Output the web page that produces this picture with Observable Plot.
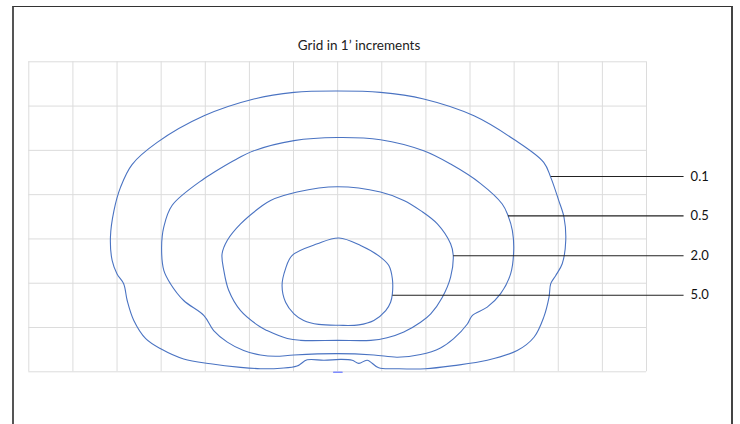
<!DOCTYPE html>
<html>
<head>
<meta charset="utf-8">
<script src="https://cdn.jsdelivr.net/npm/d3@7"></script>
<script src="https://cdn.jsdelivr.net/npm/@observablehq/plot@0.6"></script>
<style>
  html, body { margin: 0; padding: 0; background: #fff; overflow: hidden; }
  #wrap { position: relative; width: 740px; height: 424px; overflow: hidden; }
  #frame { position: absolute; left: 12px; top: 6px; width: 717px; height: 500px;
           border-left: 2px solid #555; border-right: 2px solid #444; border-top: 1.5px solid #333; }
  #title { position: relative; height: 54px; box-sizing: border-box; padding-top: 37px;
           width: 718px; text-align: center; font: 13.5px Lato, "Open Sans", sans-serif;
           line-height: 16px; color: #222; }
  #chart { position: relative; }
</style>
</head>
<body>
<div id="wrap">
  <div id="frame"></div>
  <div id="title">Grid in 1’ increments</div>
  <div id="chart"></div>
</div>
<script>
// Grid tick positions (feet)
const gridX = [0,1,2,3,4,5,6,7,8,9,10,11,12,13,14];
const gridY = [0,1,2,3,4,5,6,7];

// Contour outlines [x, y] in feet
const contour01 = [[7.00,6.34],[7.97,6.31],[8.95,6.16],[10.09,5.78],[10.99,5.25],[11.67,4.73],[11.83,4.39],[12.01,3.87],[12.13,3.49],[12.17,2.97],[12.09,2.44],[11.94,2.17],[11.83,1.99],[11.79,1.68],[11.67,1.23],[11.45,0.78],[11.07,0.48],[10.39,0.26],[9.63,0.14],[8.99,0.07],[8.35,0.07],[7.93,0.09],[7.67,0.26],[7.48,0.19],[7.33,0.26],[7.07,0.28],[6.69,0.26],[6.31,0.27],[6.08,0.13],[5.71,0.08],[5.25,0.07],[4.80,0.10],[4.12,0.18],[3.51,0.29],[2.99,0.52],[2.65,0.75],[2.38,1.16],[2.23,1.61],[2.15,1.99],[2.00,2.21],[1.89,2.51],[1.85,3.04],[1.93,3.64],[2.08,4.17],[2.34,4.68],[2.91,5.18],[3.97,5.78],[5.10,6.16],[6.01,6.31]];
const contour05 = [[6.99,5.29],[7.97,5.24],[8.95,4.99],[9.56,4.69],[10.24,4.25],[10.73,3.79],[10.86,3.53],[10.96,3.19],[10.99,2.74],[10.92,2.21],[10.69,1.76],[10.39,1.46],[10.05,1.27],[9.94,1.08],[9.63,0.75],[9.33,0.54],[8.88,0.39],[8.35,0.33],[7.82,0.38],[6.99,0.41],[6.01,0.38],[5.59,0.35],[5.25,0.38],[4.87,0.48],[4.50,0.67],[4.19,0.93],[3.97,1.27],[3.51,1.61],[3.21,1.99],[3.06,2.29],[3.01,2.81],[3.06,3.27],[3.25,3.76],[3.97,4.36],[4.19,4.50],[4.65,4.77],[5.10,4.99],[6.01,5.22]];
const contour20 = [[6.99,4.18],[7.97,4.06],[8.50,3.87],[8.88,3.64],[9.26,3.34],[9.56,2.89],[9.62,2.63],[9.56,2.14],[9.37,1.68],[9.11,1.31],[8.88,1.12],[8.50,0.90],[8.12,0.77],[7.75,0.71],[7.00,0.71],[6.16,0.71],[5.86,0.75],[5.40,0.93],[5.25,1.01],[4.80,1.38],[4.53,1.84],[4.42,2.29],[4.38,2.66],[4.50,2.97],[4.80,3.34],[5.25,3.72],[5.48,3.87],[6.08,4.06]];
const contour50 = [[7.03,3.02],[7.52,2.85],[7.97,2.59],[8.16,2.40],[8.24,2.10],[8.24,1.76],[8.20,1.57],[8.09,1.38],[7.82,1.16],[7.48,1.06],[7.03,1.05],[6.57,1.07],[6.23,1.16],[6.01,1.31],[5.82,1.57],[5.74,1.95],[5.82,2.33],[5.97,2.63],[6.54,2.89]];

// Small mark on the floor line
const baseTick = [[6.91,-0.01],[7.10,-0.01]];

// Leader labels
const labels   = ["0.1", "0.5", "2.0", "5.0"];
const leaderY  = [4.41, 3.52, 2.62, 1.73];
const leaderX0 = [11.83, 10.86, 9.62, 8.24];
const leaderX1 = 14.84;
const labelX   = 15.0;

const leaders = labels.map((l, i) => ({label: l, y: leaderY[i], x0: leaderX0[i]}));
const contours = [contour01, contour05, contour20, contour50];

const blue = "#4a73c2";
const marks = [
  Plot.ruleX(gridX, {x: d => d, y1: 0, y2: 7, stroke: "#dcdcdc", strokeWidth: 1}),
  Plot.ruleY(gridY, {y: d => d, x1: 0, x2: 14, stroke: "#dcdcdc", strokeWidth: 1}),
  ...contours.map(c => Plot.line(c, {x: d => d[0], y: d => d[1], curve: "catmull-rom-closed", stroke: blue, strokeWidth: 1.1})),
  Plot.line(baseTick, {x: d => d[0], y: d => d[1], stroke: "#7f8cff", strokeWidth: 1.5}),
  Plot.link(leaders, {x1: "x0", y1: "y", x2: () => leaderX1, y2: "y", stroke: "#222", strokeWidth: 1.1}),
  Plot.text(leaders, {x: () => labelX, y: "y", text: "label", textAnchor: "start", fill: "#111", fontSize: 13})
];

const chart = Plot.plot({
  width: 740,
  height: 370,
  marginTop: 7.3,
  marginBottom: 52.7,
  marginLeft: 28.3,
  marginRight: 94,
  x: {domain: [0, 14], axis: null},
  y: {domain: [0, 7], axis: null},
  style: {fontFamily: "Lato, 'Open Sans', sans-serif", fontSize: "13px", background: "transparent", overflow: "visible"},
  marks
});
document.getElementById("chart").appendChild(chart);
</script>
</body>
</html>
